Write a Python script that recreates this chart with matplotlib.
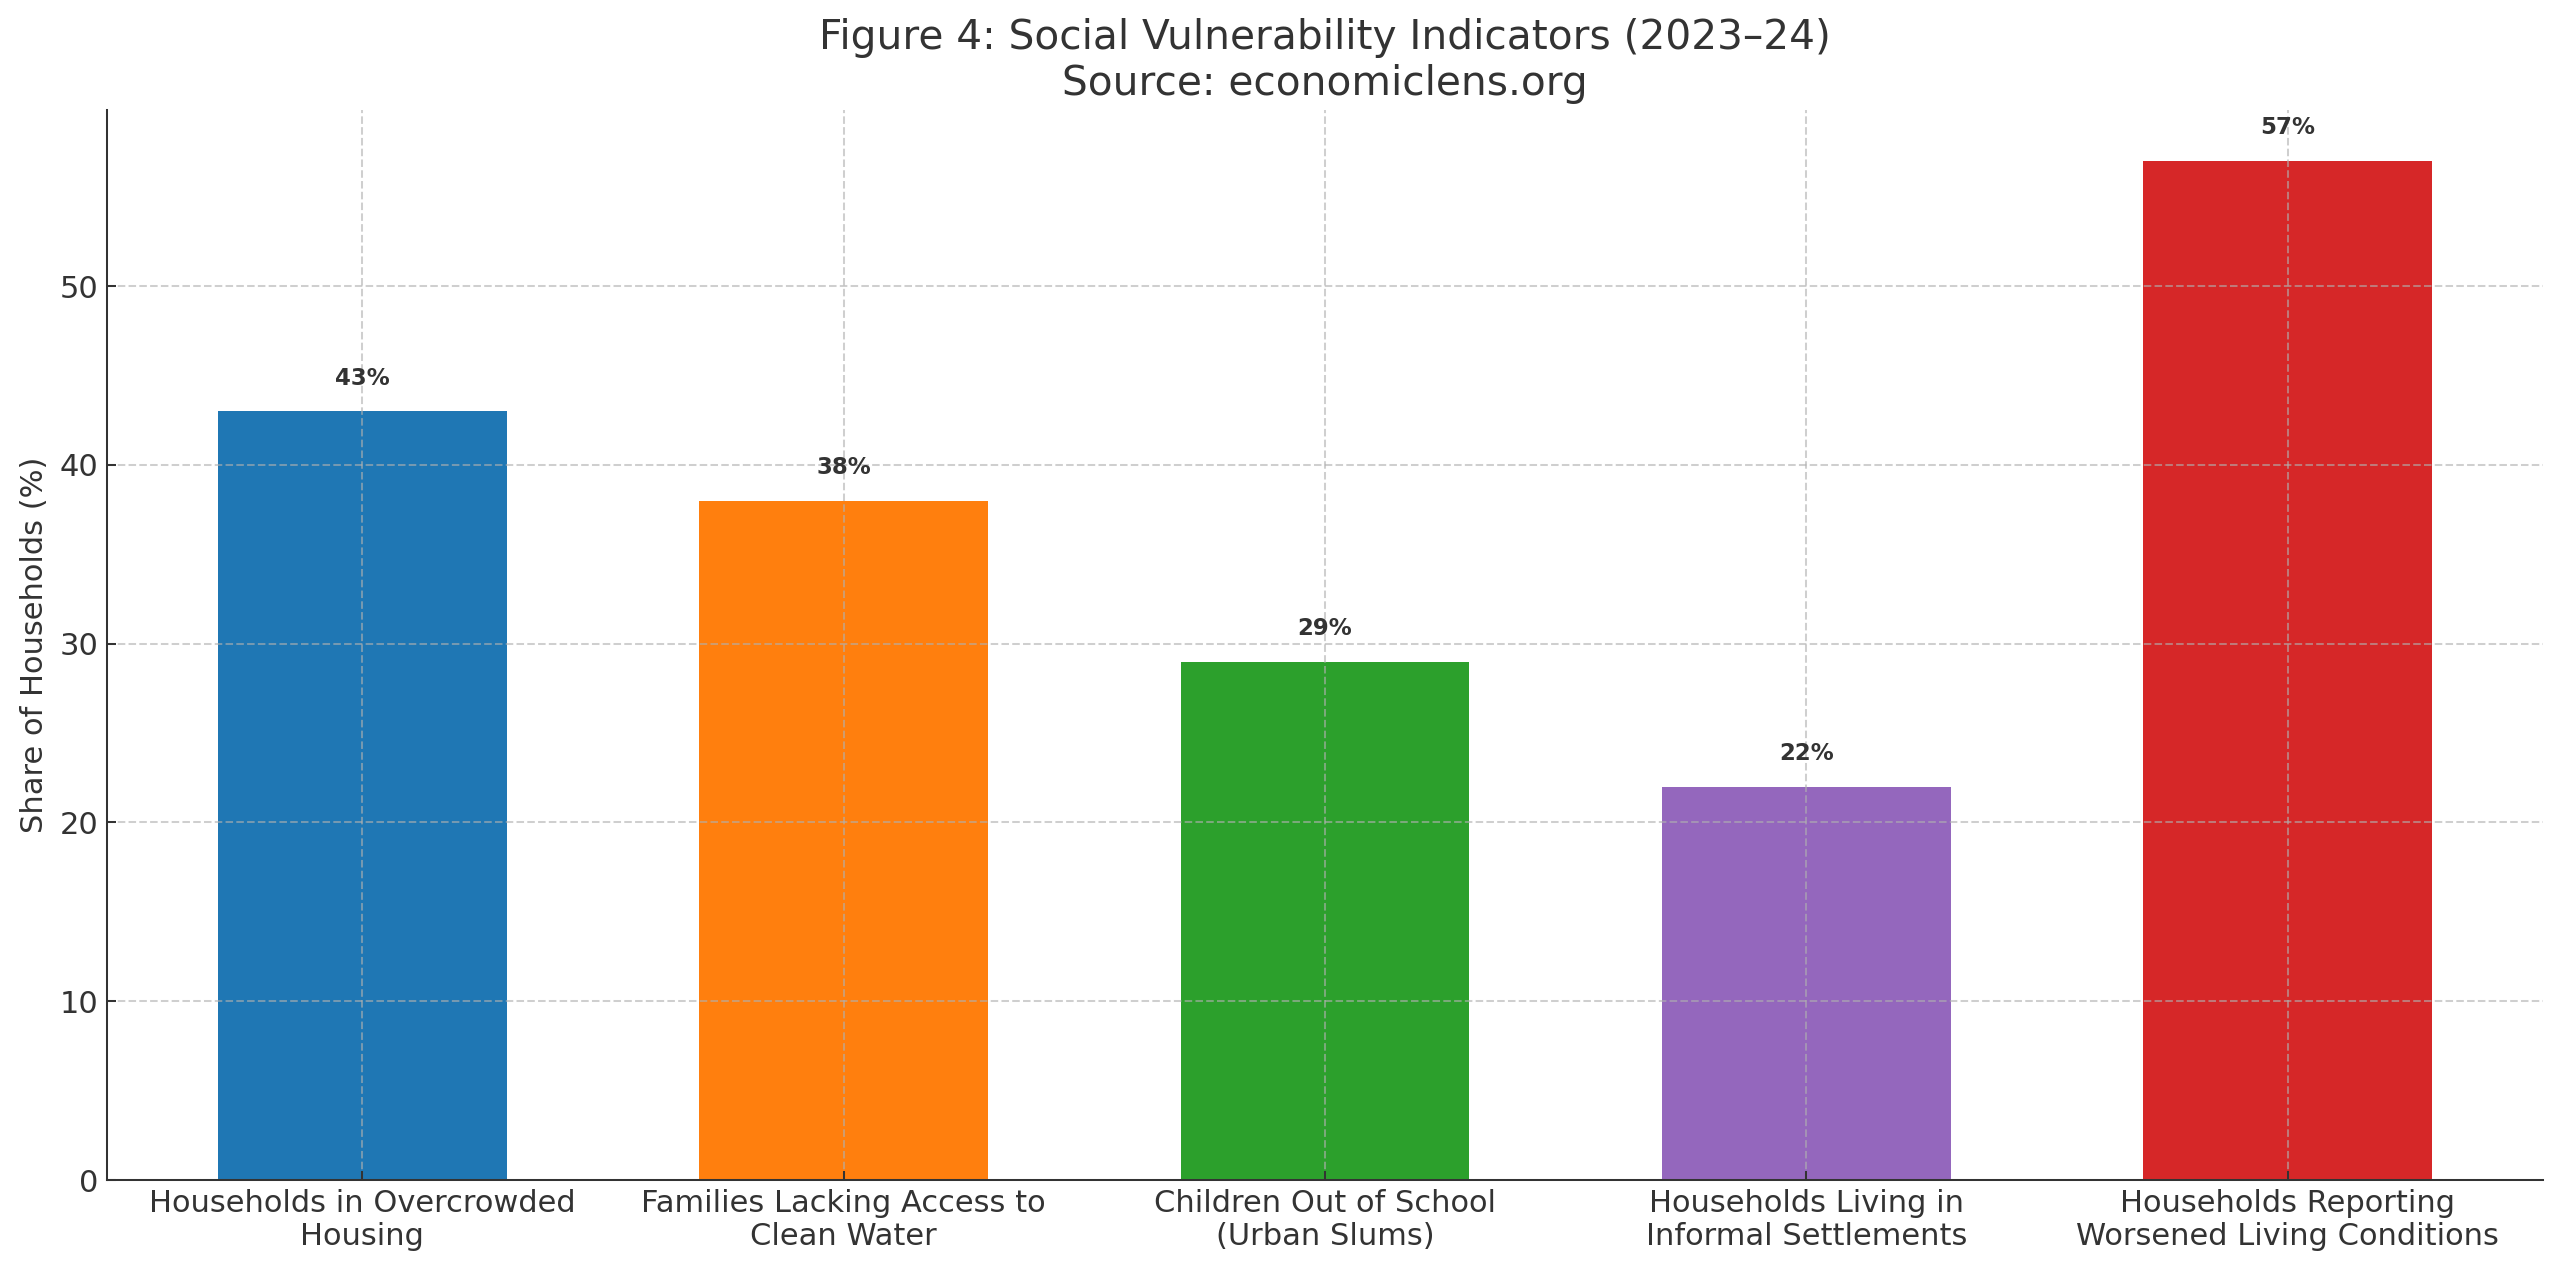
import matplotlib
matplotlib.use("Agg")
import matplotlib.pyplot as plt

categories = [
    "Households in Overcrowded\nHousing",
    "Families Lacking Access to\nClean Water",
    "Children Out of School\n(Urban Slums)",
    "Households Living in\nInformal Settlements",
    "Households Reporting\nWorsened Living Conditions",
]
values = [43, 38, 29, 22, 57]
colors = ["#1f77b4", "#ff7f0e", "#2ca02c", "#9467bd", "#d62728"]

dark = "#333333"
plt.rcParams["text.color"] = dark
plt.rcParams["axes.labelcolor"] = dark
plt.rcParams["xtick.color"] = dark
plt.rcParams["ytick.color"] = dark
plt.rcParams["axes.edgecolor"] = dark

dpi = 183
fig, ax = plt.subplots(figsize=(2560 / dpi, 1273 / dpi), dpi=dpi)
fig.subplots_adjust(left=107 / 2560, right=2543 / 2560, top=1 - 110 / 1273, bottom=1 - 1180 / 1273)

x = range(len(categories))
bars = ax.bar(x, values, width=0.6, color=colors)

for b, v in zip(bars, values):
    ax.text(b.get_x() + b.get_width() / 2, v + 1.2, f"{v}%",
            ha="center", va="bottom", fontsize=9, fontweight="bold", color=dark)

ax.set_xticks(list(x))
ax.set_xticklabels(categories, fontsize=12)
ax.tick_params(axis="y", labelsize=12)
ax.tick_params(direction="in")
ax.set_ylim(0, max(values) * 1.05)
ax.set_ylabel("Share of Households (%)", fontsize=12)
ax.set_title("Figure 4: Social Vulnerability Indicators (2023\u201324)\nSource: economiclens.org",
             fontsize=16, color=dark)

ax.grid(True, linestyle="--", alpha=0.6)
ax.spines["top"].set_visible(False)
ax.spines["right"].set_visible(False)

fig.savefig("out.png", dpi=dpi)
